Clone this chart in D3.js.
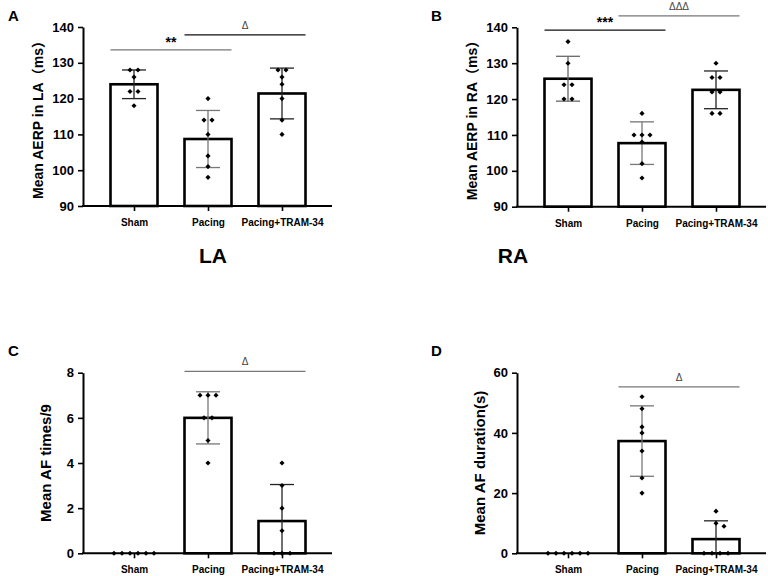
<!DOCTYPE html>
<html><head><meta charset="utf-8">
<script src="https://cdn.jsdelivr.net/npm/d3@7/dist/d3.min.js"></script>
<style>
body{margin:0;background:#fff;}
svg{display:block;}
text{font-family:"Liberation Sans",Arial,"Noto Sans CJK SC",sans-serif;}
</style></head>
<body>
<svg id="chart" width="768" height="576"></svg>
<script>
// ---------- data ----------
const categories = ["Sham", "Pacing", "Pacing+TRAM-34"];

const laSham    = [128, 128, 126, 122, 122, 118];
const laPacing  = [120, 114, 114, 110, 104, 101, 98];
const laTram    = [128, 128, 126, 124, 120, 114, 110];

const raSham    = [136, 130, 124, 124, 120, 120];
const raPacing  = [116, 110, 110, 110, 108, 102, 98];
const raTram    = [130, 126, 126, 122, 122, 116, 116];

const afTimesSham   = [0, 0, 0, 0, 0, 0];
const afTimesPacing = [7, 7, 7, 6, 6, 5, 4];
const afTimesTram   = [4, 3, 2, 1, 0, 0, 0];

const afDurSham   = [0, 0, 0, 0, 0, 0];
const afDurPacing = [52, 48, 42, 40, 34, 25, 20];
const afDurTram   = [14, 10, 9, 0, 0, 0, 0];

const aerpTicks    = [90, 100, 110, 120, 130, 140];
const afTimesTicks = [0, 2, 4, 6, 8];
const afDurTicks   = [0, 20, 40, 60];

const panelLetters = ["A", "B", "C", "D"];
const yTitles = ["Mean AERP in LA\uFF08ms\uFF09", "Mean AERP in RA\uFF08ms\uFF09", "Mean AF times/9", "Mean AF duration(s)"];
const groupLabels = ["LA", "RA"];

// significance brackets: [fromCategory, toCategory, yValue, label]
const sigA = [["Sham", "Pacing", 133.6, "**"], ["Pacing", "Pacing+TRAM-34", 137.8, "\u0394"]];
const sigB = [["Sham", "Pacing", 139.2, "***"], ["Pacing", "Pacing+TRAM-34", 143.2, "\u0394\u0394\u0394"]];
const sigC = [["Pacing", "Pacing+TRAM-34", 8.06, "\u0394"]];
const sigD = [["Pacing", "Pacing+TRAM-34", 55.3, "\u0394"]];

// ---------- layout ----------
const svg = d3.select("#chart");
svg.append("rect").attr("width", 768).attr("height", 576).attr("fill", "#fff");

const panels = [
  {letter: panelLetters[0], title: yTitles[0], groups: [laSham, laPacing, laTram], domain: [90, 140], ticks: aerpTicks, sig: sigA,
   x0: 83, yTop: 27, yBot: 206, titleX: 38, titleSize: 14, letterX: 8, letterY: 21, errColors: ["#222", "#777", "#222"], sigColors: ["#777", "#111"]},
  {letter: panelLetters[1], title: yTitles[1], groups: [raSham, raPacing, raTram], domain: [90, 140], ticks: aerpTicks, sig: sigB,
   x0: 517, yTop: 27.3, yBot: 206.7, titleX: 472, titleSize: 14, letterX: 431, letterY: 21, errColors: ["#666", "#777", "#222"], sigColors: ["#111", "#777"]},
  {letter: panelLetters[2], title: yTitles[2], groups: [afTimesSham, afTimesPacing, afTimesTram], domain: [0, 8], ticks: afTimesTicks, sig: sigC,
   x0: 83, yTop: 372.7, yBot: 553.3, titleX: 45, titleSize: 15, letterX: 8, letterY: 356, errColors: ["#222", "#777", "#222"], sigColors: ["#777"]},
  {letter: panelLetters[3], title: yTitles[3], groups: [afDurSham, afDurPacing, afDurTram], domain: [0, 60], ticks: afDurTicks, sig: sigD,
   x0: 517, yTop: 372.7, yBot: 553.3, titleX: 479, titleSize: 15, letterX: 431, letterY: 356, errColors: ["#222", "#777", "#222"], sigColors: ["#777"]}
];

const axisLen = 249, barW = 47;

function swarm(vals, y, spacing) {
  const placed = [], out = [];
  const groups = d3.groups(vals, v => v);
  const tries = [0, 0.5, -0.5, 1, -1, 1.5, -1.5, 2, -2, 2.5, -2.5, 3, -3];
  for (const [v, arr] of groups) {
    const n = arr.length, py = y(v);
    let shift = 0;
    for (const t of tries) {
      const offs = arr.map((_, i) => (i - (n - 1) / 2 + t) * spacing);
      const ok = offs.every(o => placed.every(p => Math.abs(p.y - py) >= 5 || Math.abs(p.x - o) >= spacing * 0.9));
      if (ok) { shift = t; break; }
    }
    arr.forEach((_, i) => {
      const o = (i - (n - 1) / 2 + shift) * spacing;
      placed.push({x: o, y: py});
      out.push({v: v, dx: o});
    });
  }
  return out;
}

const diamond = d3.symbol().type(d3.symbolSquare).size(13)();

panels.forEach(p => {
  const g = svg.append("g");
  const x = d3.scalePoint().domain(categories).range([p.x0 + 51, p.x0 + 199]);
  const y = d3.scaleLinear().domain(p.domain).range([p.yBot, p.yTop]);

  // y axis
  const ya = g.append("g").attr("transform", `translate(${p.x0},0)`)
    .call(d3.axisLeft(y).tickValues(p.ticks).tickSize(5).tickSizeOuter(0).tickPadding(4));
  ya.select(".domain").attr("stroke", "#000").attr("stroke-width", 2);
  ya.selectAll(".tick line").attr("stroke", "#000").attr("stroke-width", 1.6);
  ya.selectAll(".tick text").attr("font-size", 13).attr("font-weight", "bold").attr("fill", "#000")
    .attr("font-family", "'Liberation Sans', Arial, sans-serif");

  // x axis
  const xa = g.append("g").attr("transform", `translate(0,${p.yBot})`)
    .call(d3.axisBottom(x).tickSize(5).tickSizeOuter(0).tickPadding(8));
  xa.select(".domain").remove();
  xa.selectAll(".tick line").attr("stroke", "#000").attr("stroke-width", 1.6);
  xa.selectAll(".tick text").attr("font-size", 10).attr("font-weight", "bold").attr("fill", "#000")
    .attr("font-family", "'Liberation Sans', Arial, sans-serif");

  // bars
  const stats = p.groups.map((vals, i) => ({
    cat: categories[i], vals: vals, mean: d3.mean(vals), sd: d3.deviation(vals) || 0
  }));
  g.selectAll("rect.bar").data(stats).join("rect").attr("class", "bar")
    .attr("x", d => x(d.cat) - barW / 2).attr("width", barW)
    .attr("y", d => y(d.mean)).attr("height", d => y(p.domain[0]) - y(d.mean))
    .attr("fill", "#fff").attr("stroke", "#000").attr("stroke-width", 2.6);

  g.append("line").attr("x1", p.x0 - 1).attr("x2", p.x0 + axisLen)
    .attr("y1", p.yBot).attr("y2", p.yBot).attr("stroke", "#000").attr("stroke-width", 2);

  // error bars
  stats.forEach((d, i) => {
    if (d.sd === 0) return;
    const top = d.mean + d.sd;
    const bot = Math.max(d.mean - d.sd, p.domain[0]);
    const cx = x(d.cat), col = p.errColors[i];
    g.append("line").attr("x1", cx).attr("x2", cx).attr("y1", y(top)).attr("y2", y(bot))
      .attr("stroke", col).attr("stroke-width", 1.3);
    g.append("line").attr("x1", cx - 12).attr("x2", cx + 12).attr("y1", y(top)).attr("y2", y(top))
      .attr("stroke", col).attr("stroke-width", 1.3);
    if (d.mean - d.sd > p.domain[0]) {
      g.append("line").attr("x1", cx - 12).attr("x2", cx + 12).attr("y1", y(bot)).attr("y2", y(bot))
        .attr("stroke", col).attr("stroke-width", 1.3);
    }
  });

  // points
  stats.forEach(d => {
    const pts = swarm(d.vals, y, 8);
    g.selectAll(null).data(pts).join("path")
      .attr("d", diamond)
      .attr("transform", pt => `translate(${x(d.cat) + pt.dx},${y(pt.v)}) rotate(45)`)
      .attr("fill", "#000");
  });

  // significance
  p.sig.forEach((s, i) => {
    const x1 = x(s[0]) - barW / 2, x2 = x(s[1]) + barW / 2;
    const yy = y(s[2]);
    g.append("line").attr("x1", x1).attr("x2", x2).attr("y1", yy).attr("y2", yy)
      .attr("stroke", p.sigColors[i]).attr("stroke-width", 1.2);
    const isDelta = s[3].indexOf("\u0394") >= 0;
    g.append("text").attr("x", (x1 + x2) / 2).attr("y", isDelta ? yy - 6 : yy - 3)
      .attr("text-anchor", "middle")
      .attr("font-size", isDelta ? 10 : 14).attr("font-weight", isDelta ? "normal" : "bold")
      .attr("font-family", isDelta ? "'Liberation Serif', serif" : "'Liberation Sans', Arial, sans-serif")
      .attr("fill", isDelta ? "#444" : "#000")
      .text(s[3]);
  });

  // y title
  const cy = (p.yTop + p.yBot) / 2;
  g.append("text").attr("transform", `translate(${p.titleX},${cy}) rotate(-90)`)
    .attr("text-anchor", "middle").attr("dominant-baseline", "central")
    .attr("font-size", p.titleSize).attr("font-weight", "bold").attr("fill", "#000")
    .text(p.title);

  // panel letter
  g.append("text").attr("x", p.letterX).attr("y", p.letterY)
    .attr("font-size", 15).attr("font-weight", "bold").attr("fill", "#000")
    .text(p.letter);
});

// group labels LA / RA
svg.append("text").attr("x", 213).attr("y", 263).attr("text-anchor", "middle")
  .attr("font-size", 21).attr("font-weight", "bold").text(groupLabels[0]);
svg.append("text").attr("x", 513).attr("y", 263).attr("text-anchor", "middle")
  .attr("font-size", 21).attr("font-weight", "bold").text(groupLabels[1]);
</script>
</body></html>
